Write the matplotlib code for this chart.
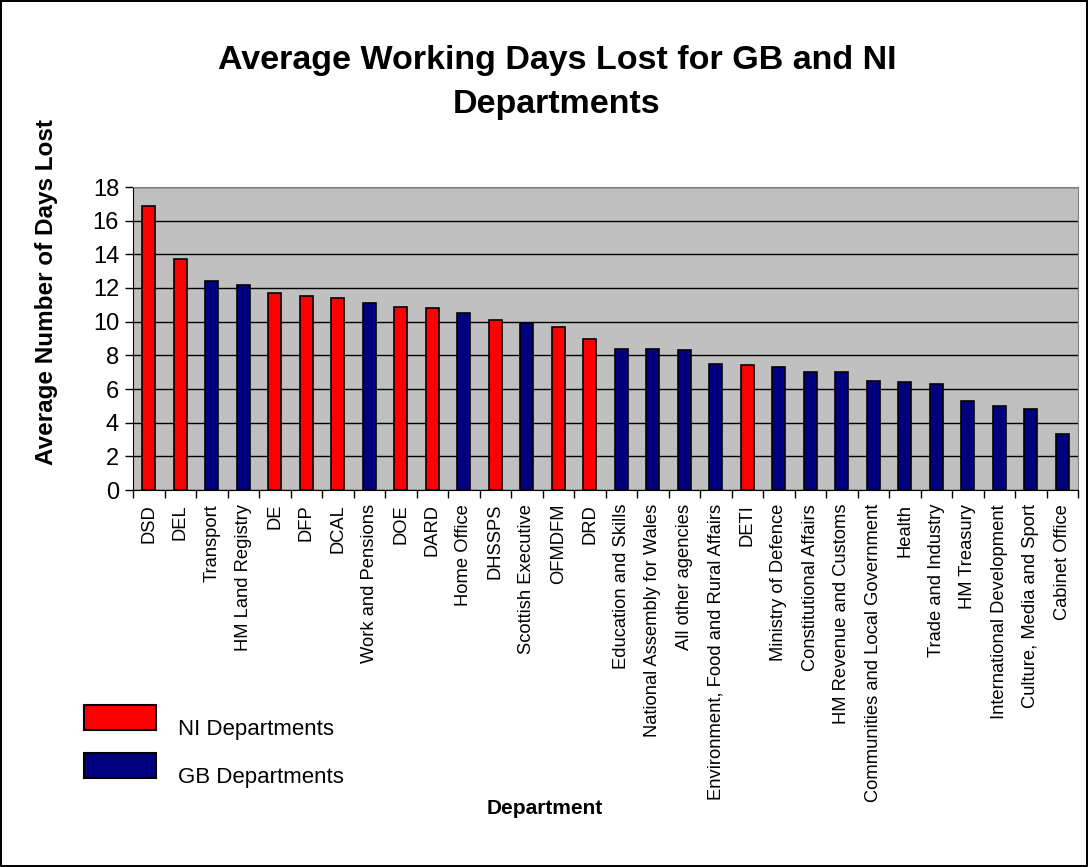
import numpy as np
import matplotlib
matplotlib.use('Agg')
import matplotlib.pyplot as plt
from matplotlib.patches import Rectangle

plt.rcParams['font.family'] = ['Liberation Sans', 'DejaVu Sans']

departments = ['DSD', 'DEL', 'Transport', 'HM Land Registry', 'DE', 'DFP', 'DCAL',
               'Work and Pensions', 'DOE', 'DARD', 'Home Office', 'DHSSPS',
               'Scottish Executive', 'OFMDFM', 'DRD', 'Education and Skills',
               'National Assembly for Wales', 'All other agencies',
               'Environment, Food and Rural Affairs', 'DETI', 'Ministry of Defence',
               'Constitutional Affairs', 'HM Revenue and Customs',
               'Communities and Local Government', 'Health', 'Trade and Industry',
               'HM Treasury', 'International Development', 'Culture, Media and Sport',
               'Cabinet Office']
days_lost = [16.9, 13.7, 12.4, 12.2, 11.7, 11.5, 11.4, 11.1, 10.9, 10.8, 10.5, 10.1,
             9.9, 9.7, 9.0, 8.4, 8.4, 8.3, 7.5, 7.4, 7.3, 7.0, 7.0, 6.5, 6.4, 6.3,
             5.3, 5.0, 4.8, 3.3]
group = ['NI', 'NI', 'GB', 'GB', 'NI', 'NI', 'NI', 'GB', 'NI', 'NI', 'GB', 'NI',
         'GB', 'NI', 'NI', 'GB', 'GB', 'GB', 'GB', 'NI', 'GB', 'GB', 'GB', 'GB',
         'GB', 'GB', 'GB', 'GB', 'GB', 'GB']
legend_labels = ['NI Departments', 'GB Departments']

ni_color = '#FF0000'
gb_color = '#000080'

W, H = 1088, 867
fig = plt.figure(figsize=(W / 100, H / 100), dpi=100, edgecolor='black', linewidth=1.5)
ax = fig.add_axes([133 / W, 1 - 490 / H, (1078 - 133) / W, (490 - 187) / H])
ax.set_facecolor('#C0C0C0')

x = np.arange(len(departments))
colors = [ni_color if g == 'NI' else gb_color for g in group]
ax.bar(x, days_lost, width=0.42, color=colors, edgecolor='black', linewidth=1.2, zorder=3)

ax.set_ylim(0, 18)
ax.set_yticks(np.arange(0, 19, 2))
ax.yaxis.grid(True, color='black', linewidth=1, zorder=1)
ax.set_xlim(-0.5, len(departments) - 0.5)
ax.set_xticks(x)
ax.set_xticklabels(departments, rotation=90, fontsize=13.2)
ax.set_xticks(np.arange(-0.5, len(departments), 1), minor=True)
ax.tick_params(axis='x', which='major', length=0, pad=10)
ax.tick_params(axis='x', which='minor', length=6, width=1)
ax.tick_params(axis='y', labelsize=17, length=6, width=1, pad=4)

for s in ['top', 'right']:
    ax.spines[s].set_color('#808080')
ax.spines['left'].set_color('black')
ax.spines['bottom'].set_color('black')

def fx(px):
    return px / W

def fy(py):
    return 1 - py / H

fig.text(fx(47), fy(292), 'Average Number of Days Lost', rotation=90, ha='center',
         va='center', fontsize=17.5, fontweight='bold')
fig.text(fx(545), fy(808), 'Department', ha='center', va='center',
         fontsize=15, fontweight='bold')
fig.text(fx(557), fy(61), 'Average Working Days Lost for GB and NI', ha='center',
         va='center', fontsize=24.5, fontweight='bold')
fig.text(fx(557), fy(104), 'Departments', ha='center', va='center',
         fontsize=24.5, fontweight='bold')

# legend drawn by hand, Excel style
for i, (lab, col) in enumerate(zip(legend_labels, [ni_color, gb_color])):
    top = 705 + i * 48
    fig.patches.append(Rectangle((fx(84), fy(top + 25)), 72 / W, 25 / H,
                                 transform=fig.transFigure, facecolor=col,
                                 edgecolor='black', linewidth=1.5))
    fig.text(fx(178), fy(top + 25), lab, ha='left', va='center', fontsize=16)

fig.savefig('out.png', dpi=100, edgecolor=fig.get_edgecolor())
